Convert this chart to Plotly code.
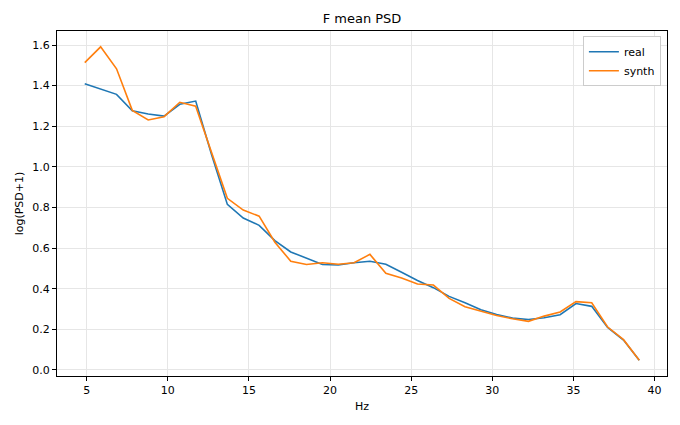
import plotly.graph_objects as go

# frequency bins (Hz)
freqs = [4.88, 5.86, 6.84, 7.81, 8.79, 9.77, 10.74, 11.72, 12.70, 13.67,
         14.65, 15.63, 16.60, 17.58, 18.55, 19.53, 20.51, 21.48, 22.46, 23.44,
         24.41, 25.39, 26.37, 27.34, 28.32, 29.30, 30.27, 31.25, 32.23, 33.20,
         34.18, 35.16, 36.13, 37.11, 38.09, 39.06]

# mean log(PSD+1)
real = [1.409, 1.384, 1.357, 1.276, 1.260, 1.250, 1.308, 1.324, 1.060, 0.815,
        0.748, 0.712, 0.637, 0.581, 0.550, 0.519, 0.517, 0.528, 0.535, 0.520,
        0.481, 0.440, 0.405, 0.362, 0.331, 0.296, 0.273, 0.255, 0.248, 0.257,
        0.272, 0.327, 0.313, 0.209, 0.147, 0.048]
synth = [1.513, 1.591, 1.483, 1.278, 1.231, 1.247, 1.318, 1.299, 1.070, 0.845,
         0.787, 0.757, 0.629, 0.535, 0.519, 0.528, 0.520, 0.528, 0.569, 0.476,
         0.453, 0.423, 0.418, 0.352, 0.311, 0.290, 0.268, 0.252, 0.239, 0.265,
         0.285, 0.336, 0.331, 0.211, 0.149, 0.048]

x_ticks = [5, 10, 15, 20, 25, 30, 35, 40]
y_ticks = [0.0, 0.2, 0.4, 0.6, 0.8, 1.0, 1.2, 1.4, 1.6]

font = "DejaVu Sans, sans-serif"

fig = go.Figure()
fig.add_trace(go.Scatter(x=freqs, y=real, mode="lines", name="real",
                         line=dict(color="#1f77b4", width=1.6)))
fig.add_trace(go.Scatter(x=freqs, y=synth, mode="lines", name="synth",
                         line=dict(color="#ff7f0e", width=1.6)))

axis_style = dict(showline=True, linecolor="black", linewidth=1, mirror=True,
                  ticks="outside", ticklen=4, tickcolor="black",
                  showgrid=True, gridcolor="#e6e6e6", gridwidth=1,
                  zeroline=False, automargin=False,
                  tickfont=dict(size=11, color="black"))

fig.update_xaxes(range=[3.17, 40.77], tickvals=x_ticks,
                 title=dict(text="Hz", font=dict(size=11), standoff=6),
                 **axis_style)
fig.update_yaxes(range=[-0.03, 1.669], tickvals=y_ticks, tickformat=".1f",
                 title=dict(text="log(PSD+1)", font=dict(size=11), standoff=6),
                 **axis_style)

# page body adds an 8px offset, so margins are shifted to compensate
fig.update_layout(
    width=680, height=425,
    margin=dict(l=49, r=21, t=23, b=57, autoexpand=False),
    paper_bgcolor="white", plot_bgcolor="white",
    font=dict(family=font, color="black"),
    title=dict(text="F mean PSD", x=0.5, xref="paper", xanchor="center",
               y=0.976, yanchor="middle", font=dict(size=13)),
    legend=dict(x=0.99, y=0.985, xanchor="right", yanchor="top",
                bordercolor="#cccccc", borderwidth=1, bgcolor="white",
                font=dict(size=11)),
    showlegend=True,
)

fig.write_html("out.html")
